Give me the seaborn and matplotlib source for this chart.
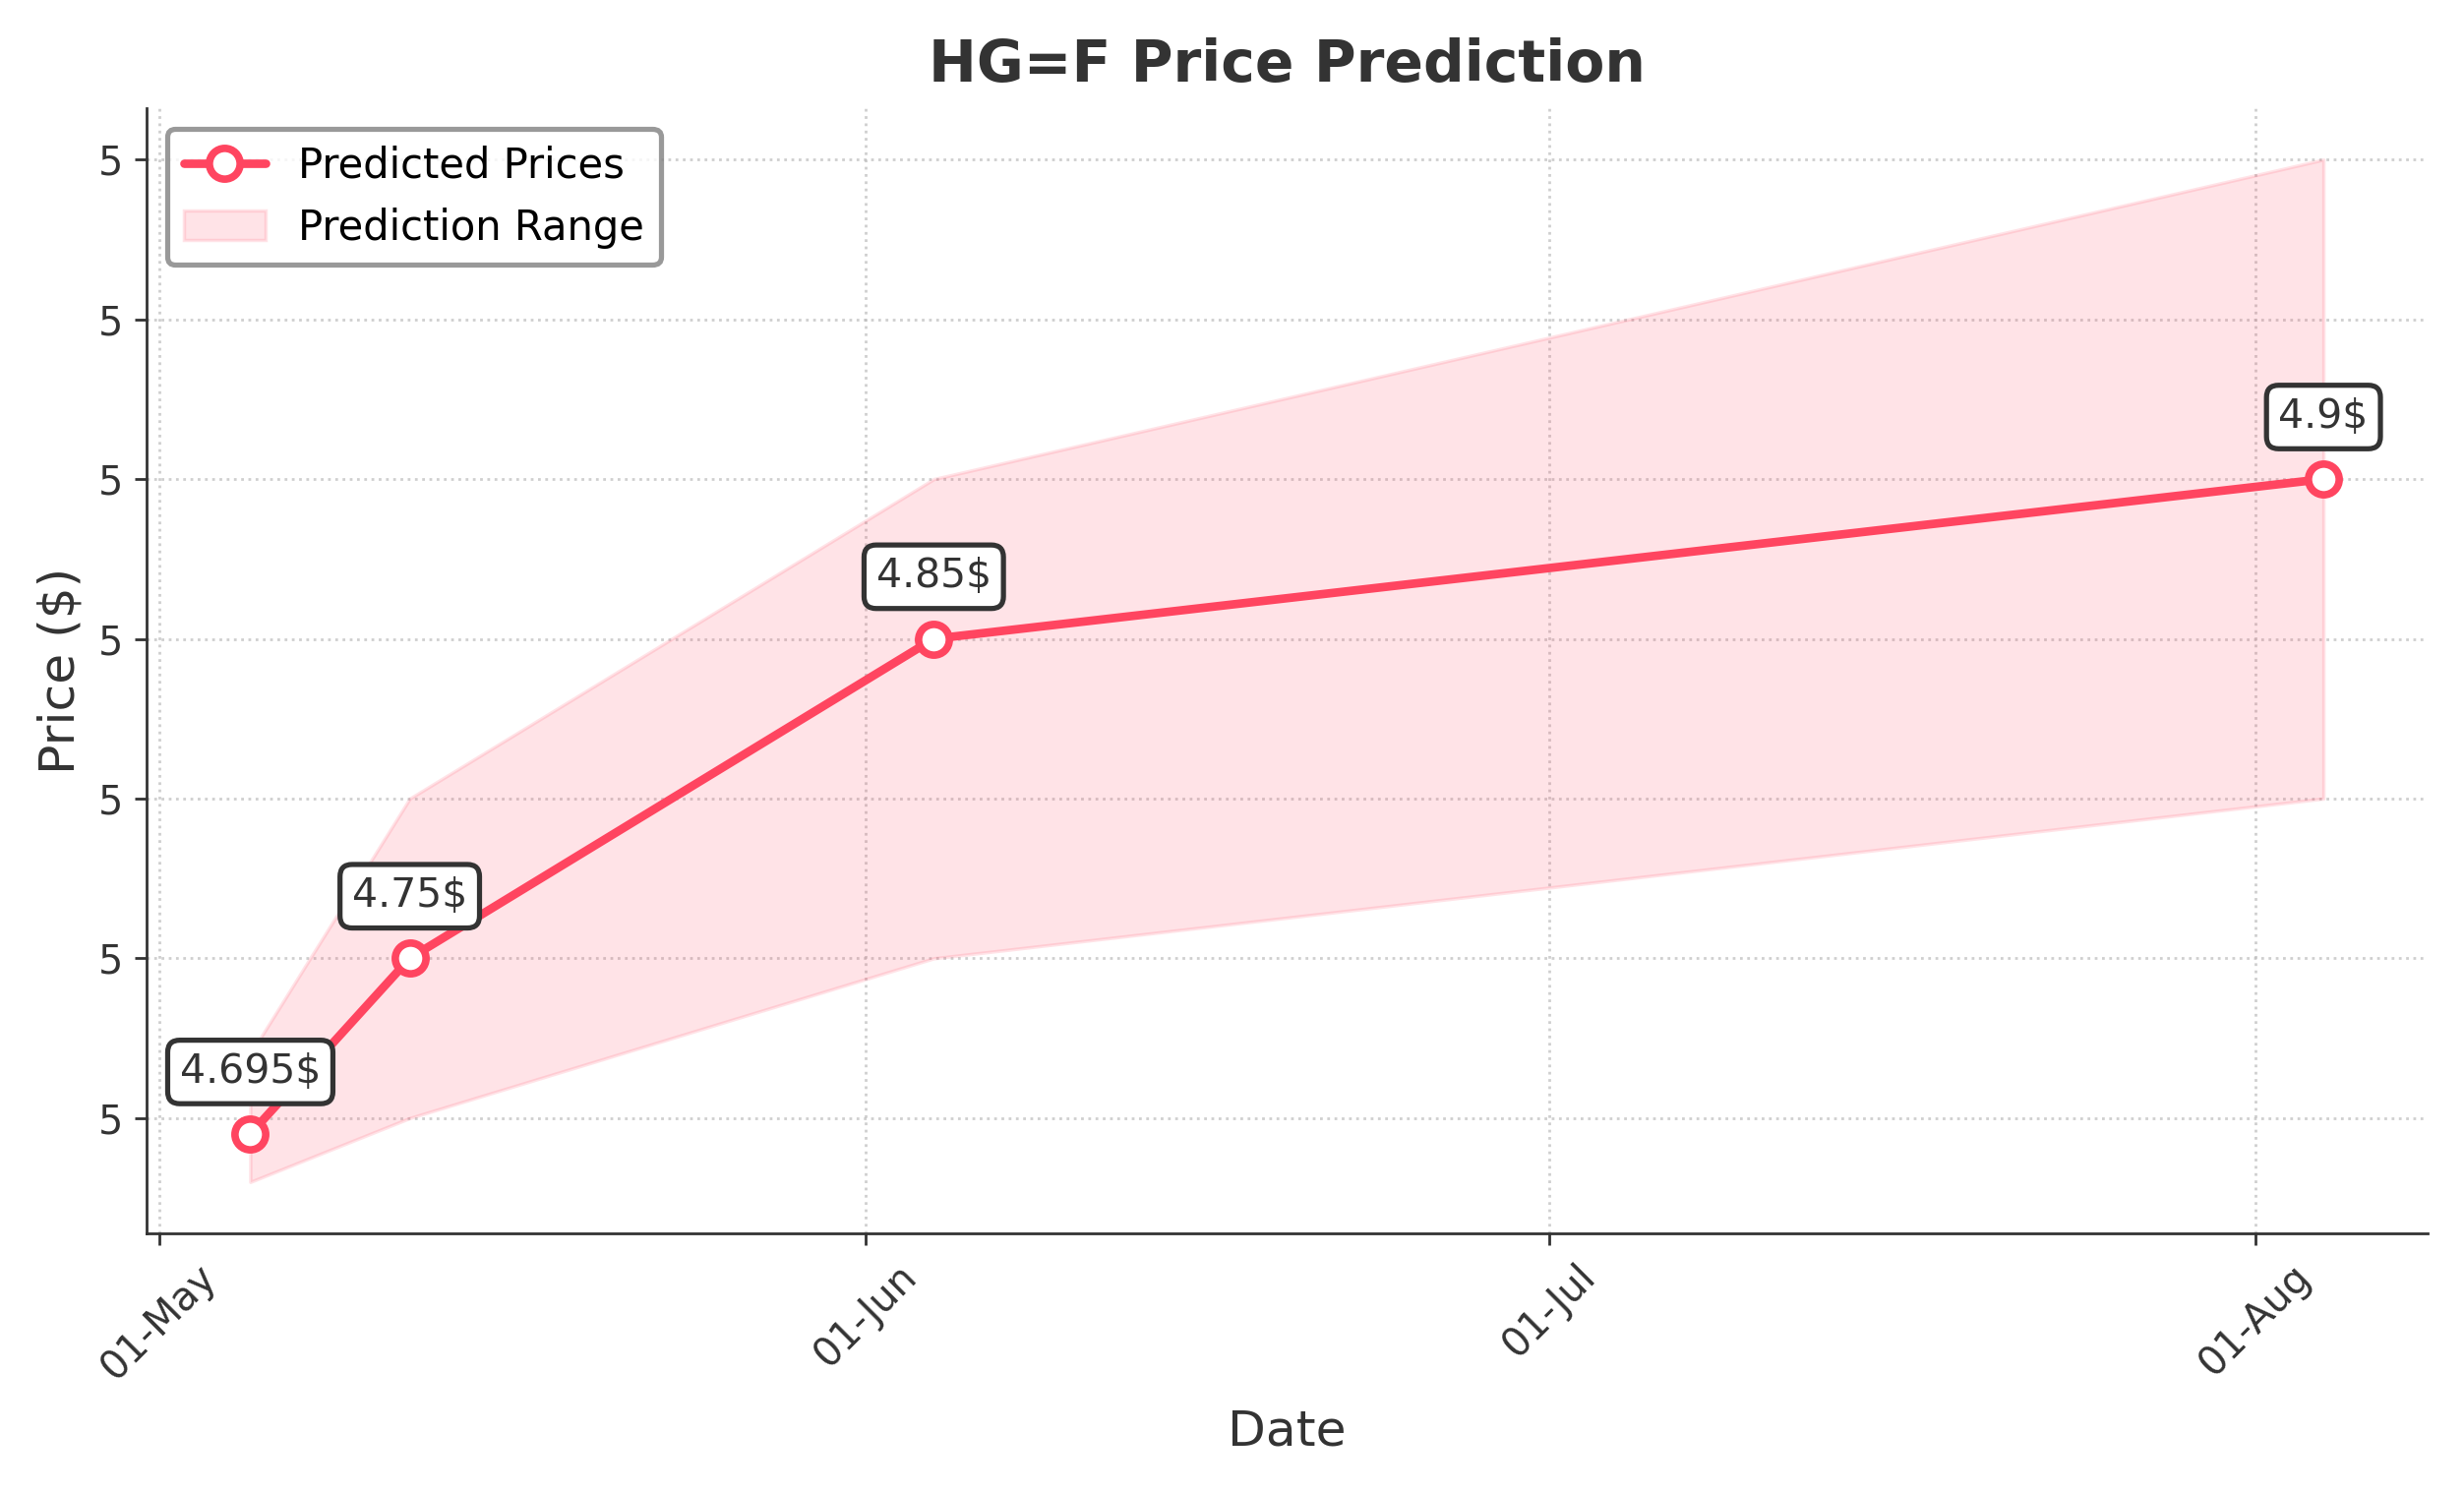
import pandas as pd
import seaborn as sns
import matplotlib.pyplot as plt
import matplotlib.dates as mdates
from matplotlib.ticker import FormatStrFormatter

# prediction data
dates = ['2024-05-05', '2024-05-12', '2024-06-04', '2024-08-04']
predicted = [4.695, 4.75, 4.85, 4.9]
lower = [4.68, 4.70, 4.75, 4.80]
upper = [4.72, 4.80, 4.90, 5.00]

data = pd.DataFrame({
    'date': pd.to_datetime(dates),
    'predicted': predicted,
    'lower': lower,
    'upper': upper,
})

sns.set_style('ticks')
plt.rcParams['font.family'] = ['DejaVu Sans']
plt.rcParams['text.color'] = '#333333'
plt.rcParams['axes.labelcolor'] = '#333333'
plt.rcParams['xtick.color'] = '#333333'
plt.rcParams['ytick.color'] = '#333333'
plt.rcParams['axes.edgecolor'] = '#333333'

line_color = '#FF4560'

fig, ax = plt.subplots(figsize=(10.02, 6.068), dpi=250)

ax.fill_between(data['date'], data['lower'], data['upper'], color=line_color,
                alpha=0.15, label='Prediction Range')
sns.lineplot(data=data, x='date', y='predicted', ax=ax, color=line_color,
             linewidth=2.5, marker='o', markersize=9, markerfacecolor='white',
             markeredgecolor=line_color, markeredgewidth=2.2,
             label='Predicted Prices')

for d, p in zip(data['date'], data['predicted']):
    ax.annotate(f'{p}$', (d, p), textcoords='offset points', xytext=(0, 15),
                ha='center', fontsize=11.8, color='#333333',
                bbox=dict(boxstyle='round,pad=0.3', fc='white', ec='#333333', lw=1.5))

ax.set_title('HG=F Price Prediction', fontsize=16.8, fontweight='bold',
             color='#333333', pad=8)
ax.set_xlabel('Date', fontsize=14.5, labelpad=6)
ax.set_ylabel('Price ($)', fontsize=14.5)

ax.xaxis.set_major_locator(mdates.MonthLocator())
ax.xaxis.set_major_formatter(mdates.DateFormatter('%d-%b'))
ax.yaxis.set_major_formatter(FormatStrFormatter('%.0f'))
plt.xticks(rotation=45, fontsize=11.5)
plt.yticks(fontsize=11.5)

ax.grid(True, linestyle=':', color='#bbbbbb', alpha=0.7)
sns.despine(ax=ax)

# legend: line first, then range
handles, labels = ax.get_legend_handles_labels()
order = [labels.index('Predicted Prices'), labels.index('Prediction Range')]
leg = ax.legend([handles[i] for i in order], [labels[i] for i in order],
                loc='upper left', fontsize=12, frameon=True, fancybox=True)
for t in leg.get_texts():
    t.set_color('black')
leg.get_frame().set_edgecolor('#808080')
leg.get_frame().set_linewidth(1.5)

plt.tight_layout()
plt.savefig('out.png', dpi=250)
